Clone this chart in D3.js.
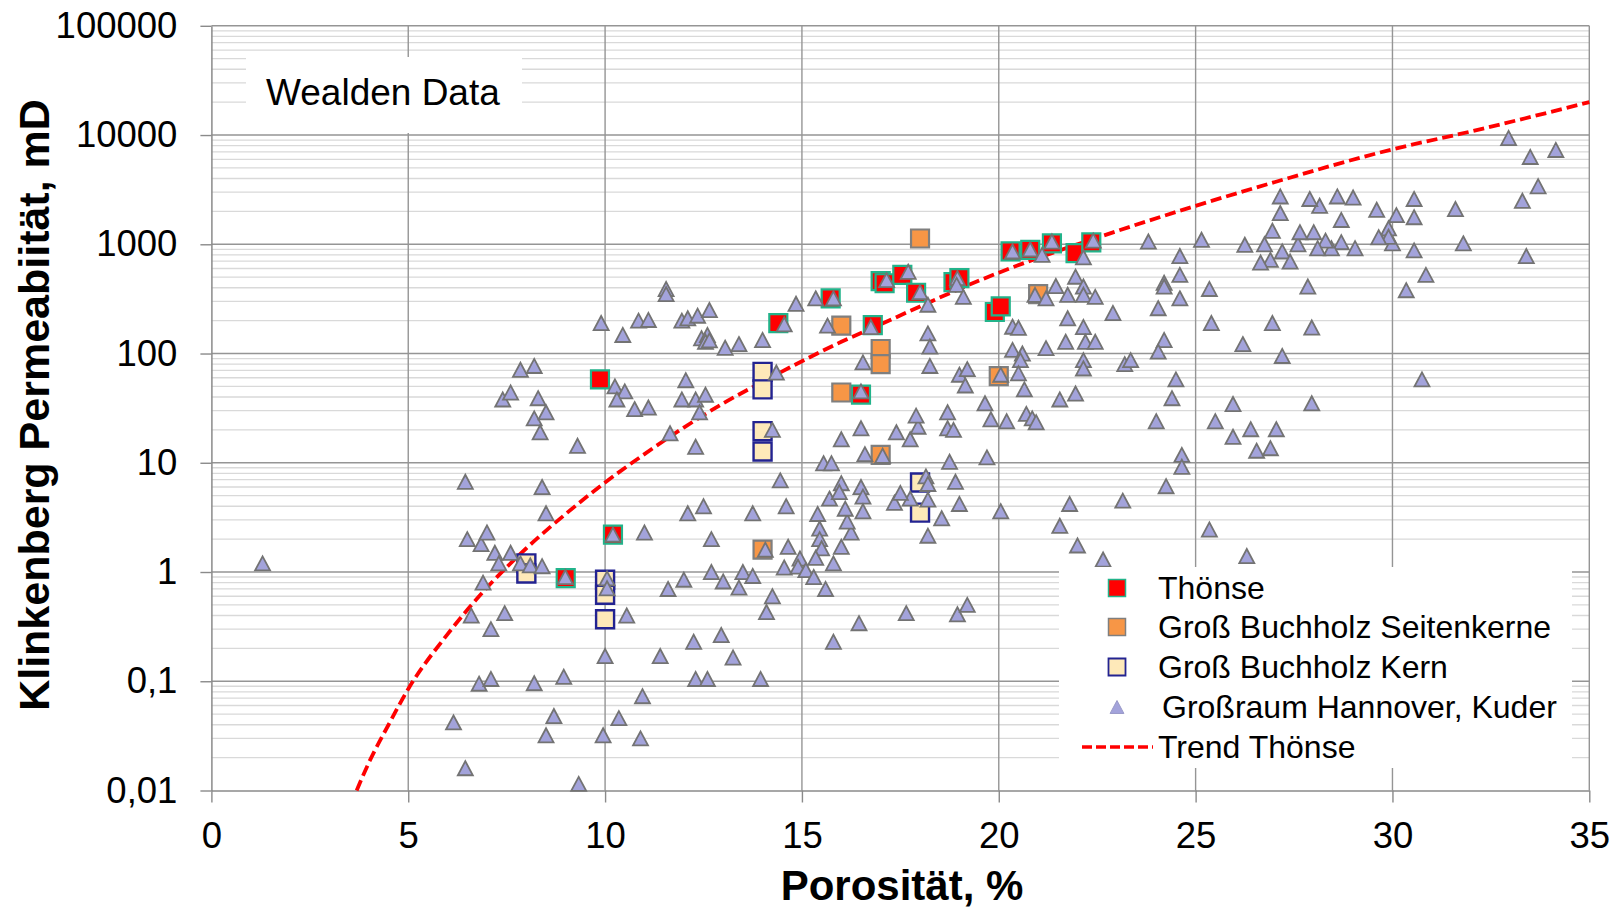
<!DOCTYPE html>
<html><head><meta charset="utf-8">
<script src="https://cdn.jsdelivr.net/npm/d3@7"></script>
<style>
body{margin:0;background:#fff}
text{font-family:"Liberation Sans", Arial, sans-serif}
</style>
</head><body>
<svg id="c" width="1617" height="909"></svg>
<script>
// ---- data ----
const xTicks = [0,5,10,15,20,25,30,35];
const yTicks = [0.01,0.1,1,10,100,1000,10000,100000];
const yTickLabels = ["0,01","0,1","1","10","100","1000","10000","100000"];
const seriesNames = ["Thönse","Groß Buchholz Seitenkerne","Groß Buchholz Kern","Großraum Hannover, Kuder","Trend Thönse"];

const thoense = [[9.87,58],[9.0,0.88],[10.2,2.2],[14.4,190],[15.73,320],[16.8,182],[16.5,42],
  [17.0,460],[17.1,440],[17.55,525],[17.9,360],[18.85,450],[19.0,490],[19.9,240],[20.05,270],
  [20.3,860],[20.8,890],[21.35,1020],[21.95,830],[22.35,1040]];

const seitenkerne = [[18.0,1130],[16.0,180],[17.0,110],[17.0,80],[16.0,44],[17.0,11.8],[14.0,1.6],[21.0,350],[20.0,62]];

const kern = [[14.0,68],[14.0,47],[14.0,19.5],[14.0,12.7],[8.0,1.2],[8.0,0.97],[10.0,0.85],[10.0,0.62],[10.0,0.37],[18.0,6.6],[18.0,3.5]];

const kuder = [
  [1.3,1.2],[6.45,6.7],[6.5,2.0],[6.85,1.8],[7.0,2.3],[7.2,1.5],[7.3,1.2],[6.9,0.8],[6.6,0.4],[7.1,0.3],[6.8,0.095],[7.1,0.105],[6.15,0.042],[6.45,0.016],
  [8.4,6.0],[9.3,14.3],[7.4,38],[7.6,44],[7.85,71],[8.2,77],[8.3,39],[8.2,25.5],[8.5,29],[8.35,19],[9.9,190],[10.25,50],[10.5,45],[10.3,38],[10.45,148],[10.85,200],[11.1,203],[11.55,390],[11.55,350],[10.75,31],[11.1,32],[11.95,200],[12.1,210],[12.35,222],[12.65,250],[12.45,138],[12.6,148],[12.55,128],[12.65,132],[13.05,113],[13.4,122],[14.0,133],[14.85,285],[15.35,320],[14.55,185],[15.8,320],[14.35,67],[14.25,20],[14.45,6.9],[12.05,57],[11.95,38],[12.3,38],[12.55,42],[12.4,29],[11.65,18.6],[12.3,14],[15.65,180],[16.75,175],[16.55,83],[16.5,45],[16.5,20.7],[16.0,16.4],[17.05,11.6],[16.6,12],[15.55,9.9],[15.75,9.9],
  [8.5,3.45],[7.6,1.5],[7.85,1.2],[8.1,1.15],[8.4,1.13],[8.99,0.9],[7.45,0.42],[8.2,0.096],[8.95,0.11],[8.7,0.048],[8.5,0.032],[9.33,0.0115],[10.2,2.2],[11.0,2.3],[10.05,0.875],[10.05,0.71],[10.55,0.4],[10.0,0.17],[9.95,0.032],[10.35,0.046],[10.9,0.03],[10.95,0.073],[11.4,0.17],[11.6,0.7],[12.0,0.85],[12.1,3.45],[12.5,4.0],[12.7,2.0],[12.7,1.0],[13.0,0.82],[13.5,1.0],[13.75,0.92],[13.4,0.72],[13.75,3.45],[14.6,4.0],[14.07,1.6],[14.65,1.7],[14.25,0.6],[14.1,0.43],[14.55,1.1],[14.95,1.33],[14.9,1.12],[15.1,1.04],[15.3,0.9],[15.6,0.7],[15.4,3.4],[15.45,2.5],[15.45,2.0],[15.5,1.65],[15.35,1.35],[15.8,1.2],[16.0,1.7],[16.25,2.3],[16.15,2.9],[16.1,3.8],[15.7,4.7],[16.0,6.5],[15.95,5.4],[16.5,6.0],[16.55,4.9],[16.55,3.6],[17.35,4.3],[15.8,0.23],[16.45,0.34],[12.95,0.265],[12.25,0.23],[13.25,0.165],[12.3,0.105],[12.6,0.105],[13.95,0.105],
  [17.15,470],[17.7,560],[18.0,365],[18.2,280],[18.95,490],[18.93,425],[19.1,330],[20.35,860],[20.8,900],[21.35,1060],[22.15,760],[22.4,1080],[21.1,800],[20.92,344],[21.2,320],[21.45,415],[21.75,345],[21.95,505],[22.15,410],[22.15,345],[22.45,330],[22.9,235],[21.75,210],[22.15,175],[20.35,176],[20.5,172],[21.7,128],[22.2,128],[22.45,128],[21.2,112],[20.35,108],[20.6,100],[20.55,87],[22.15,87],[22.15,73],[23.2,80],[23.35,87],[20.05,64],[20.5,66],[20.65,47],[19.65,35],[19.8,25],[20.2,24],[20.7,28],[20.85,25.5],[20.95,23.5],[21.55,38],[21.95,43],[24.0,24],[24.4,39],[24.5,58],[25.4,190],[25.35,390],[24.05,260],[24.2,445],[24.2,410],[24.6,780],[24.6,525],[24.6,320],[23.8,1060],[25.15,1100],[26.25,990],[26.2,122],[24.2,133],[24.05,104],[25.95,34.5],[25.5,24],[25.95,17.3],[24.65,11.8],[24.65,9.2],[24.25,6.1],[23.15,4.5],[25.35,2.45],[21.8,4.2],[21.55,2.65],[22.0,1.75],[20.05,3.6],[19.7,11.2],[18.75,10.2],[18.55,3.1],[18.2,2.15],[18.15,7.5],[18.2,6.4],[18.2,4.6],[17.75,4.7],[17.5,5.3],[18.9,6.7],[19.0,4.2],[17.4,19],[17.75,16.4],[17.95,21.4],[17.9,27],[18.7,29],[18.7,20.7],[18.85,20],[18.25,77],[19.0,64],[19.2,72],[19.15,51],[18.2,153],[18.25,116],
  [32.95,9400],[33.5,6300],[34.15,7300],[33.7,3400],[33.3,2500],[33.4,780],[31.6,2100],[31.8,1020],[30.55,2600],[30.55,1770],[30.55,880],[30.85,525],[30.35,380],[30.75,58],[30.1,1850],[30.0,1020],[29.85,1260],[29.9,1400],[29.9,1170],[29.65,1160],[29.6,2070],[29.05,920],[29.0,2680],[28.6,2740],[28.7,1670],[28.7,1045],[28.45,920],[28.3,1080],[28.1,920],[28.0,1290],[28.15,2250],[27.9,2600],[27.6,1000],[27.65,1290],[27.85,410],[27.95,173],[27.95,35],[27.15,2740],[27.15,1930],[26.95,1330],[26.75,1000],[27.2,860],[26.9,720],[26.65,680],[27.4,695],[22.65,1.3],[26.3,1.4],[26.4,20.3],[27.05,20.3],[26.55,12.9],[26.9,13.6],[26.95,190],[27.2,95],
  [17.65,0.42],[18.95,0.41],[19.2,0.5]
];

const trend = [[3.69,0.01],[4,0.018],[4.5,0.04],[5,0.085],[6,0.27],[7,0.72],[8,1.65],[9,3.4],[10,6.6],[11,12],[12,21],[13,35],[14,55],[15,85],[16,128],[17,185],[18,270],[19,390],[20,550],[21,750],[22,1000],[23,1320],[25,2250],[27,3700],[30,7400],[32,10800],[35,20000]];

// ---- chart ----
const FONT = '"Liberation Sans", Arial, sans-serif';
const svg = d3.select("#c");
const x = d3.scaleLinear().domain([0,35]).range([211.4,1589.3]);
const y = d3.scaleLog().domain([0.01,100000]).range([790.5,25.8]);

const isDecade = v => Math.abs(Math.log10(v) - Math.round(Math.log10(v))) < 1e-6;
const minor = y.ticks().filter(v => !isDecade(v));

const grid = svg.append("g");
grid.selectAll(".mn").data(minor).join("line")
  .attr("x1", x(0)).attr("x2", x(35))
  .attr("y1", d => y(d)).attr("y2", d => y(d))
  .attr("stroke", "#d9d9d9").attr("stroke-width", 1.3);
grid.selectAll(".mj").data(yTicks.slice(1)).join("line")
  .attr("x1", x(0)).attr("x2", x(35))
  .attr("y1", d => y(d)).attr("y2", d => y(d))
  .attr("stroke", "#959595").attr("stroke-width", 1.4);
grid.selectAll(".vj").data(xTicks.slice(1)).join("line")
  .attr("x1", d => x(d)).attr("x2", d => x(d))
  .attr("y1", y(100000)).attr("y2", y(0.01))
  .attr("stroke", "#959595").attr("stroke-width", 1.4);

// Wealden box (covers grid)
svg.append("rect").attr("x", 246).attr("y", 57).attr("width", 276).attr("height", 76).attr("fill", "#fff");
svg.append("text").attr("x", 266).attr("y", 105).attr("font-size", 37).attr("fill", "#000")
  .style("font-family", FONT).text("Wealden Data");

// axes
const yAxis = d3.axisLeft(y).tickValues(yTicks).tickFormat((d,i) => yTickLabels[i])
  .tickSize(11).tickSizeOuter(0).tickPadding(23);
const gy = svg.append("g").attr("transform", `translate(${x(0)},0)`).call(yAxis);
const xAxis = d3.axisBottom(x).tickValues(xTicks).tickFormat(d3.format("d"))
  .tickSize(12).tickSizeOuter(0).tickPadding(20);
const gx = svg.append("g").attr("transform", `translate(0,${y(0.01)})`).call(xAxis);
[gx, gy].forEach(g => {
  g.select(".domain").attr("stroke", "#8a8a8a").attr("stroke-width", 1.5);
  g.selectAll(".tick line").attr("stroke", "#8a8a8a").attr("stroke-width", 1.4);
  g.selectAll("text").attr("font-size", 36.5).attr("fill", "#000").style("font-family", FONT);
});

// trend line
const line = d3.line().x(d => x(d[0])).y(d => y(d[1])).curve(d3.curveMonotoneX);
svg.append("path").datum(trend).attr("d", line).attr("fill", "none")
  .attr("stroke", "#ff0000").attr("stroke-width", 3.8).attr("stroke-dasharray", "11,5");

// markers
const triType = {draw(ctx, size){ const s = Math.sqrt(size); ctx.moveTo(0,-s*0.47); ctx.lineTo(s*0.5,s*0.47); ctx.lineTo(-s*0.5,s*0.47); ctx.closePath(); }};
const sq = d3.symbol().type(d3.symbolSquare).size(324);
const tri = d3.symbol().type(triType).size(225);

function squares(data, fill, stroke, sw){
  svg.append("g").selectAll("path").data(data).join("path")
    .attr("transform", d => `translate(${x(d[0])},${y(d[1])})`)
    .attr("d", sq).attr("fill", fill).attr("stroke", stroke).attr("stroke-width", sw);
}
squares(thoense, "#ff0000", "#22b38a", 2.2);
squares(seitenkerne, "#f79646", "#7f7f7f", 2.2);
squares(kern, "#fee9b9", "#232391", 2.4);

svg.append("g").selectAll("path").data(kuder).join("path")
  .attr("transform", d => `translate(${x(d[0])},${y(d[1])})`)
  .attr("d", tri).attr("fill", "#a3a3db").attr("stroke", "#737373").attr("stroke-width", 1.8);

// legend
const lg = svg.append("g");
lg.append("rect").attr("x", 1059).attr("y", 567).attr("width", 513).attr("height", 201).attr("fill", "#fff");
const rows = [588, 627, 667, 707, 747];
const legSq = d3.symbol().type(d3.symbolSquare).size(289);
lg.append("path").attr("transform", `translate(1117,${rows[0]})`).attr("d", legSq).attr("fill", "#ff0000").attr("stroke", "#22b38a").attr("stroke-width", 1.5);
lg.append("path").attr("transform", `translate(1117,${rows[1]})`).attr("d", legSq).attr("fill", "#f79646").attr("stroke", "#7f7f7f").attr("stroke-width", 1.5);
lg.append("path").attr("transform", `translate(1117,${rows[2]})`).attr("d", legSq).attr("fill", "#fee9b9").attr("stroke", "#232391").attr("stroke-width", 1.8);
lg.append("path").attr("transform", `translate(1117,${rows[3]})`).attr("d", d3.symbol().type(triType).size(190)).attr("fill", "#a3a3db").attr("stroke", "#9a9ac8").attr("stroke-width", 1);
lg.append("line").attr("x1", 1082).attr("x2", 1153).attr("y1", rows[4]).attr("y2", rows[4])
  .attr("stroke", "#ff0000").attr("stroke-width", 3.4).attr("stroke-dasharray", "10,4");
const textX = [1158, 1158, 1158, 1162, 1158];
lg.selectAll("text").data(seriesNames).join("text")
  .attr("x", (d,i) => textX[i]).attr("y", (d,i) => rows[i] + 11)
  .attr("font-size", 32).attr("fill", "#000").style("font-family", FONT).text(d => d);

// axis titles
svg.append("text").attr("transform", "translate(49,405) rotate(-90)").attr("text-anchor", "middle")
  .attr("font-size", 43).attr("font-weight", "bold").attr("fill", "#000").style("font-family", FONT)
  .text("Klinkenberg Permeabiität,  mD");
svg.append("text").attr("x", 902).attr("y", 900).attr("text-anchor", "middle")
  .attr("font-size", 42).attr("font-weight", "bold").attr("fill", "#000").style("font-family", FONT)
  .text("Porosität, %");
</script>
</body></html>
